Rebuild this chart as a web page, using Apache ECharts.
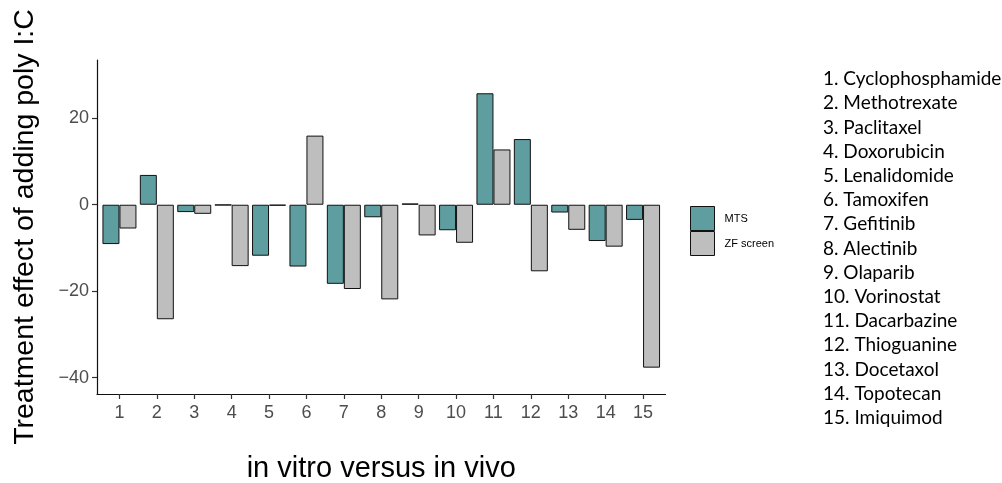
<!DOCTYPE html>
<html>
<head>
<meta charset="utf-8">
<script src="https://cdn.jsdelivr.net/npm/echarts@6/dist/echarts.min.js"></script>
<style>html,body{margin:0;padding:0;background:#fff}#c{width:1002px;height:483px}</style>
</head>
<body>
<div id="c"></div>
<script>
const categories = [1,2,3,4,5,6,7,8,9,10,11,12,13,14,15];
const mtsValues = [-9.1, 6.9, -1.7, -0.1, -11.8, -14.3, -18.3, -2.9, 0.3, -5.9, 25.8, 15.2, -1.8, -8.4, -3.5];
const zfValues = [-5.5, -26.5, -2.1, -14.2, -0.2, 16.0, -19.5, -21.9, -7.1, -8.8, 12.8, -15.4, -5.8, -9.7, -37.7];
const yTicks = [-40, -20, 0, 20];
const drugNames = ['Cyclophosphamide','Methotrexate','Paclitaxel','Doxorubicin','Lenalidomide','Tamoxifen','Gefitinib','Alectinib','Olaparib','Vorinostat','Dacarbazine','Thioguanine','Docetaxol','Topotecan','Imiquimod'];

const chart = echarts.init(document.getElementById('c'), null, {renderer: 'canvas'});
const listText = drugNames.map((d, i) => (i + 1) + '. ' + d).join('\n');
chart.setOption({
  animation: false,
  backgroundColor: '#fff',
  textStyle: {fontFamily: 'Liberation Sans'},
  title: {
    text: listText,
    left: 818, top: 62,
    textStyle: {fontFamily: 'Lato', fontWeight: 'normal', fontSize: 19, lineHeight: 24.2, color: '#000'}
  },
  legend: {
    orient: 'vertical', left: 685, top: 201,
    itemWidth: 24, itemHeight: 24, itemGap: 0,
    icon: 'rect',
    itemStyle: {borderColor: '#111', borderWidth: 1},
    textStyle: {fontSize: 11, color: '#000', fontFamily: 'Liberation Sans', padding: [0, 0, 0, 5]},
    data: ['MTS', 'ZF screen']
  },
  grid: {left: 97, right: 336.5, top: 60, bottom: 89, containLabel: false, outerBoundsMode: 'none'},
  xAxis: {
    type: 'value', min: 0.4, max: 15.6,
    name: 'in vitro versus in vivo', nameLocation: 'middle', nameGap: 60,
    nameTextStyle: {fontSize: 29, color: '#000', fontFamily: 'Liberation Sans'},
    splitLine: {show: false},
    axisLine: {show: true, onZero: false, lineStyle: {color: '#111', width: 1.2}},
    axisTick: {show: true, length: 5, customValues: categories, lineStyle: {color: '#333', width: 1.2}},
    axisLabel: {fontSize: 18, color: '#4D4D4D', margin: 10, customValues: categories}
  },
  yAxis: {
    type: 'value', min: -43.8, max: 33.5,
    name: 'Treatment effect of adding poly I:C', nameLocation: 'middle', nameGap: 57, nameRotate: 90,
    nameTextStyle: {fontSize: 28.5, color: '#000', fontFamily: 'Liberation Sans'},
    splitLine: {show: false},
    axisLine: {show: true, onZero: false, lineStyle: {color: '#111', width: 1.2}},
    axisTick: {show: true, length: 5, customValues: yTicks, lineStyle: {color: '#333', width: 1.2}},
    axisLabel: {fontSize: 18, color: '#4D4D4D', margin: 8, customValues: yTicks,
      formatter: v => String(v).replace('-', '\u2212')}
  },
  series: [
    {name: 'MTS', type: 'bar', data: categories.map((c, i) => [c, mtsValues[i]]), barWidth: 17, barGap: '0%',
     itemStyle: {color: '#5F9EA0', borderColor: '#111', borderWidth: 1}},
    {name: 'ZF screen', type: 'bar', data: categories.map((c, i) => [c, zfValues[i]]), barWidth: 17, barGap: '0%',
     itemStyle: {color: '#BEBEBE', borderColor: '#111', borderWidth: 1}}
  ]
});
</script>
</body>
</html>
